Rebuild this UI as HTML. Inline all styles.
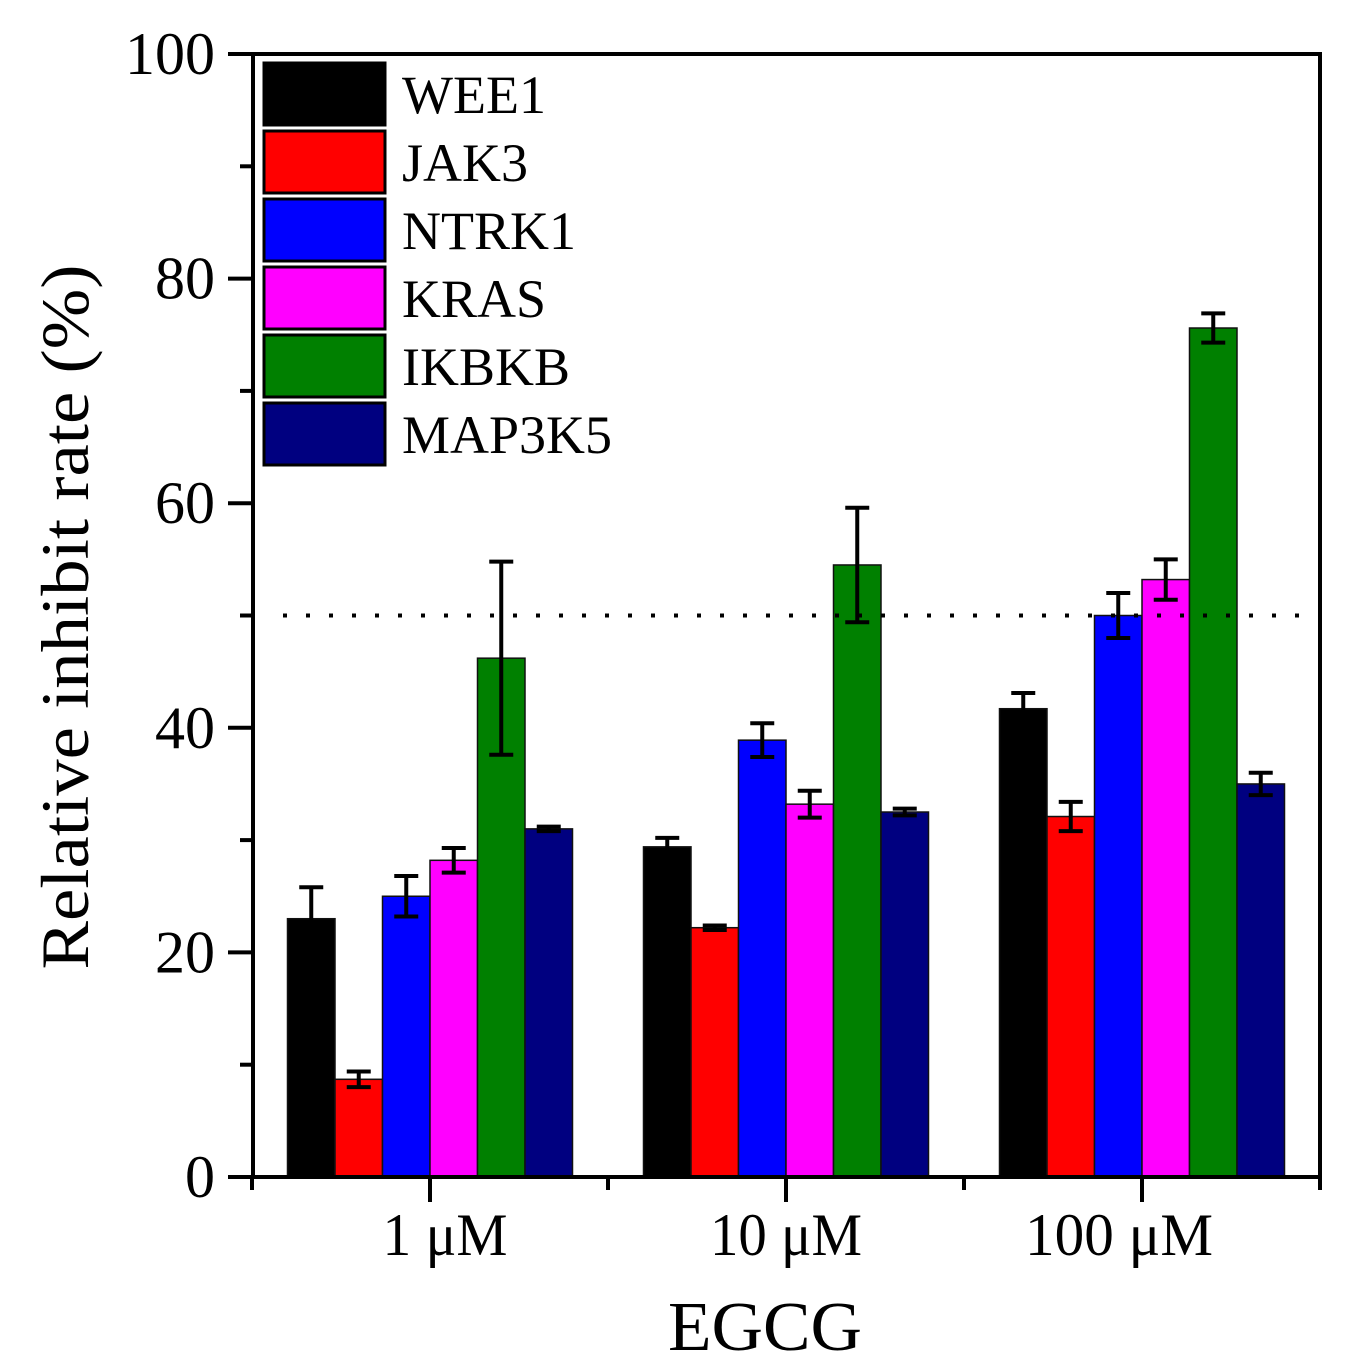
<!DOCTYPE html>
<html><head><meta charset="utf-8"><style>body{margin:0;background:#fff}svg{display:block}text{font-family:"Liberation Serif",serif;fill:#000}</style></head>
<body>
<svg width="1350" height="1368">
<g id="g"></g>
</svg>
<script>
const categories=["1 μM","10 μM","100 μM"];
const seriesNames=["WEE1","JAK3","NTRK1","KRAS","IKBKB","MAP3K5"];
const seriesColors=["#000000","#ff0000","#0000ff","#ff00ff","#008000","#000080"];
const wee1=[23.0,29.4,41.7];
const jak3=[8.7,22.2,32.1];
const ntrk1=[25.0,38.9,50.0];
const kras=[28.2,33.2,53.2];
const ikbkb=[46.2,54.5,75.6];
const map3k5=[31.0,32.5,35.0];
const wee1Err=[2.8,0.8,1.4];
const jak3Err=[0.7,0.2,1.3];
const ntrk1Err=[1.8,1.5,2.0];
const kras1Err=[1.1,1.2,1.8];
const ikbkbErr=[8.6,5.1,1.3];
const map3k5Err=[0.2,0.3,1.0];
const yTicks=[0,20,40,60,80,100];
const refLine=50;
const values=[wee1,jak3,ntrk1,kras,ikbkb,map3k5];
const errs=[wee1Err,jak3Err,ntrk1Err,kras1Err,ikbkbErr,map3k5Err];
const NS="http://www.w3.org/2000/svg",g=document.getElementById('g');
const L=253,R=1320,T=54,B=1177;
const y=v=>B-(v/100)*(B-T);
const gc=i=>430+i*356;
const labelShift=[15,0,-23],labelLen=[125,152,188];
function mk(t,a,txt){const e=document.createElementNS(NS,t);for(const k in a)e.setAttribute(k,a[k]);if(txt!==undefined)e.textContent=txt;g.appendChild(e);return e;}
const bw=47.5;
values.forEach((s,si)=>s.forEach((v,ci)=>{
 const x=gc(ci)-142.5+si*bw;
 const b=mk('rect',{x:x,y:y(v),width:bw,height:B-y(v),fill:seriesColors[si],stroke:'#111','stroke-width':1.5});
 
 
 const cx=x+bw/2,e=errs[si][ci];
 const eb=mk('path',{d:`M${cx} ${y(v+e)}V${y(v-e)}M${cx-12} ${y(v+e)}H${cx+12}M${cx-12} ${y(v-e)}H${cx+12}`,stroke:'#000','stroke-width':4,fill:'none'});
 
 
}));
const rl=mk('line',{x1:283,x2:R,y1:y(refLine),y2:y(refLine),stroke:'#000','stroke-width':4,'stroke-dasharray':'4 19'});


const fr=mk('path',{d:`M228 ${T}H${R}V${B}H228M${L} ${T}V${B}`,stroke:'#000','stroke-width':4,fill:'none'});


for(let v=0;v<=100;v+=10){const maj=v%20===0;mk('line',{x1:maj?228:240,x2:L,y1:y(v),y2:y(v),stroke:'#000','stroke-width':4});}
yTicks.forEach(v=>{const t=mk('text',{x:215,y:y(v)+20,'font-size':60,'text-anchor':'end'},v);
 
 });
categories.forEach((c,i)=>{mk('line',{x1:gc(i),x2:gc(i),y1:B,y2:1202,stroke:'#000','stroke-width':4});
 mk('line',{x1:gc(i)-178,x2:gc(i)-178,y1:B,y2:1190,stroke:'#000','stroke-width':4});
 const t=mk('text',{x:gc(i)+labelShift[i],y:1255,'font-size':60,'text-anchor':'middle',textLength:labelLen[i],lengthAdjust:'spacingAndGlyphs'},c);
 
 });
mk('line',{x1:gc(2)+178,x2:gc(2)+178,y1:B,y2:1190,stroke:'#000','stroke-width':4});
const xt=mk('text',{x:765,y:1350,'font-size':70,'text-anchor':'middle',textLength:194,lengthAdjust:'spacingAndGlyphs'},'EGCG');


const yt=mk('text',{x:0,y:0,'font-size':68,'text-anchor':'middle',textLength:705,lengthAdjust:'spacingAndGlyphs',transform:'translate(88,617) rotate(-90)'},'Relative inhibit  rate (%)');


seriesNames.forEach((n,i)=>{const yy=63+i*68;
 const r=mk('rect',{x:264,y:yy,width:121,height:62,fill:seriesColors[i],stroke:'#000','stroke-width':3});
 
 
 const t=mk('text',{x:402,y:yy+50,'font-size':54},n);
 
 });
</script>
</body></html>
